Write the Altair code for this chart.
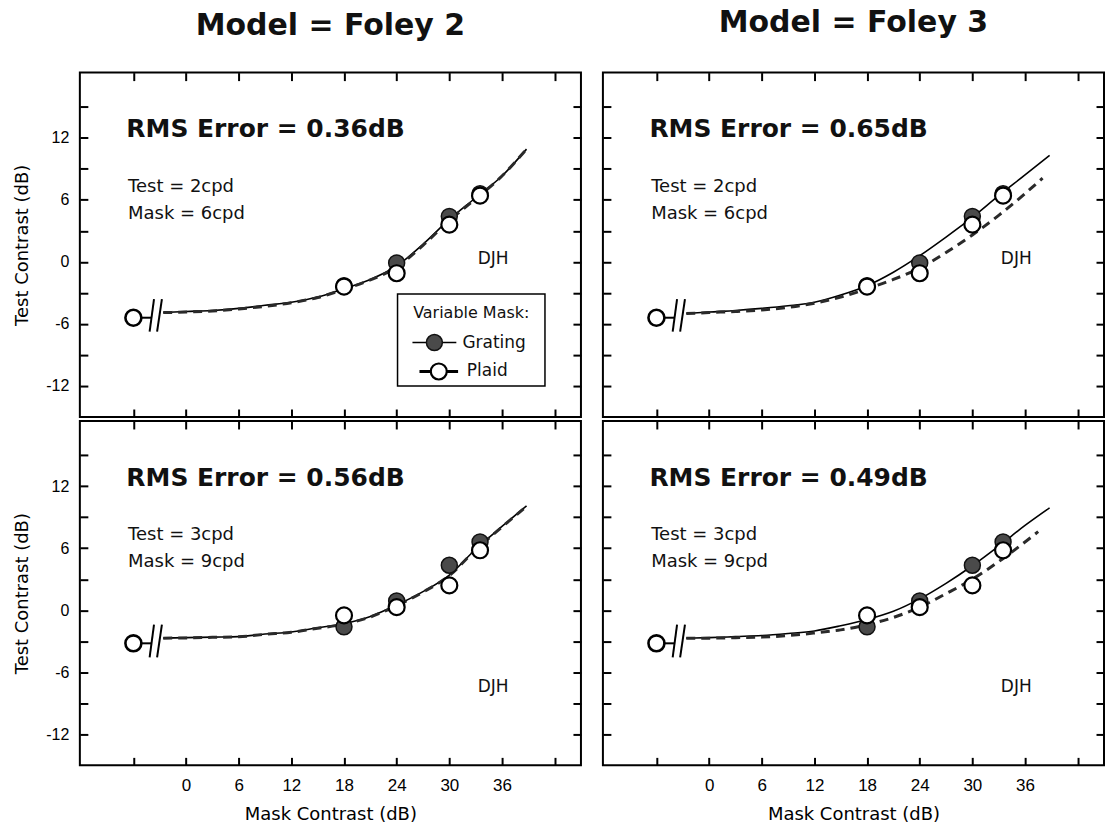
import altair as alt
import pandas as pd

# ---------------- data (dB) ----------------
MASK_DB = [18, 24, 30, 33.5]
NO_MASK_X = -6

TOP_GRATING = [-2.3, -0.1, 4.4, 6.6]
TOP_PLAID = [-2.4, -1.1, 3.6, 6.4]
TOP_NO_MASK = -5.4

BOT_GRATING = [-1.6, 0.9, 4.35, 6.6]
BOT_PLAID = [-0.5, 0.3, 2.4, 5.8]
BOT_NO_MASK = -3.2

FIT_X = [-2.6, 0, 3, 6, 9, 12, 15, 18, 21, 24, 27, 30, 33, 36, 38.8]

# Foley 2 model fits
F2_TOP_GRATING_FIT = [-4.9, -4.8, -4.7, -4.5, -4.2, -3.9, -3.4, -2.6, -1.7, -0.4, 1.7, 4.1, 6.2, 8.3, 10.9]
F2_TOP_PLAID_FIT = [-4.9, -4.85, -4.75, -4.55, -4.3, -3.95, -3.45, -2.65, -1.75, -0.5, 1.6, 4.0, 6.1, 8.3, 10.9]
F2_BOT_GRATING_FIT = [-2.7, -2.65, -2.6, -2.55, -2.3, -2.1, -1.7, -1.3, -0.6, 0.5, 1.8, 3.4, 5.9, 8.1, 10.1]
F2_BOT_PLAID_FIT = [-2.7, -2.68, -2.62, -2.57, -2.33, -2.13, -1.74, -1.35, -0.65, 0.45, 1.75, 3.35, 5.85, 8.05, 10.05]

# Foley 3 model fits
F3_TOP_GRATING_FIT = [-5.0, -4.85, -4.7, -4.5, -4.25, -3.9, -3.2, -2.3, -1.0, 0.6, 2.4, 4.3, 6.4, 8.4, 10.3]
F3_TOP_PLAID_X = [-2.6, 0, 3, 6, 9, 12, 15, 18, 21, 24, 27, 30, 33, 36, 38.0]
F3_TOP_PLAID_FIT = [-5.0, -4.9, -4.8, -4.65, -4.4, -4.0, -3.4, -2.6, -1.7, -0.6, 0.9, 2.6, 4.5, 6.6, 8.1]
F3_BOT_GRATING_FIT = [-2.7, -2.65, -2.55, -2.45, -2.25, -2.0, -1.5, -0.9, -0.1, 1.1, 2.6, 4.3, 6.2, 8.2, 9.9]
F3_BOT_PLAID_X = [-2.6, 0, 3, 6, 9, 12, 15, 18, 21, 24, 27, 30, 33, 36, 37.5]
F3_BOT_PLAID_FIT = [-2.7, -2.7, -2.65, -2.6, -2.45, -2.2, -1.9, -1.4, -0.7, 0.3, 1.6, 3.0, 4.7, 6.6, 7.6]

RMS = {"F2_top": "0.36", "F3_top": "0.65", "F2_bot": "0.56", "F3_bot": "0.49"}
TOP_FREQ = ["Test = 2cpd", "Mask = 6cpd"]
BOT_FREQ = ["Test = 3cpd", "Mask = 9cpd"]
X_TICKS = [-6, 0, 6, 12, 18, 24, 30, 36, 42]
Y_TICKS = [-12, -9, -6, -3, 0, 3, 6, 9, 12, 15]
LEGEND_TITLE = "Variable Mask:"
LEGEND_ITEMS = ["Grating", "Plaid"]

# ---------------- layout / style ----------------
W, H = 502, 345
xs = alt.Scale(domain=[-12.1, 45], nice=False, zero=False)
ys = alt.Scale(domain=[-15, 18.3], nice=False, zero=False)
SANS = "DejaVu Sans"
ARIAL = "Liberation Sans"


def x_axis(orient, labels):
    kw = dict(orient=orient, values=X_TICKS, offset=-8, tickSize=8, tickWidth=2,
              tickColor="black", domain=False, grid=False, labels=labels)
    if labels:
        kw.update(labelExpr="datum.value >= 0 && datum.value <= 36 ? '' + datum.value : ''",
                  labelFont=ARIAL, labelFontSize=17, labelPadding=12, labelColor="black",
                  title="Mask Contrast (dB)", titleFont=SANS, titleFontSize=18,
                  titleFontWeight="normal", titlePadding=12, titleColor="black")
    else:
        kw.update(title=None)
    return alt.Axis(**kw)


def y_axis(orient, labels):
    kw = dict(orient=orient, values=Y_TICKS, offset=-8, tickSize=8, tickWidth=2,
              tickColor="black", domain=False, grid=False, labels=labels)
    if labels:
        kw.update(labelExpr="datum.value % 6 == 0 && abs(datum.value) <= 12 ? '' + datum.value : ''",
                  labelFont=ARIAL, labelFontSize=16, labelPadding=11, labelColor="black",
                  title="Test Contrast (dB)", titleFont=SANS, titleFontSize=18,
                  titleFontWeight="normal", titlePadding=14, titleColor="black")
    else:
        kw.update(title=None)
    return alt.Axis(**kw)


def X(f="m"):
    return alt.X(f"{f}:Q", scale=xs, axis=None)


def Y(f="t"):
    return alt.Y(f"{f}:Q", scale=ys, axis=None)


def panel(g_x, g_y, p_x, p_y, grating, plaid, nomask, rms, freq, djh_y,
          left, bottom, legend=False, title=None, title_dy=0):
    layers = []
    solid = alt.Chart(pd.DataFrame({"m": g_x, "t": g_y})).mark_line(
        color="black", strokeWidth=1.6, interpolate="monotone").encode(
        x=alt.X("m:Q", scale=xs, axis=x_axis("bottom", bottom)),
        y=alt.Y("t:Q", scale=ys, axis=y_axis("left", left)))
    dashed = alt.Chart(pd.DataFrame({"m": p_x, "t": p_y})).mark_line(
        color="#2a2a2a", strokeWidth=3, strokeDash=[9, 6], interpolate="monotone").encode(
        x=alt.X("m:Q", scale=xs, axis=x_axis("top", False)),
        y=alt.Y("t:Q", scale=ys, axis=y_axis("right", False)))
    layers += [solid, dashed]

    # connector from the no-mask point and the axis-break marks
    conn = alt.Chart(pd.DataFrame({"m": [NO_MASK_X], "m2": [-3.9], "t": [nomask]})).mark_rule(
        color="black", strokeWidth=2).encode(x=X(), x2="m2:Q", y=Y())
    brk = alt.Chart(pd.DataFrame({"m": [-4.15, -3.3], "m2": [-3.65, -2.75],
                                  "t": [nomask - 1.35] * 2, "t2": [nomask + 1.8] * 2})).mark_rule(
        color="black", strokeWidth=2).encode(x=X(), x2="m2:Q", y=Y(), y2="t2:Q")
    layers += [conn, brk]

    gp = alt.Chart(pd.DataFrame({"m": MASK_DB, "t": grating})).mark_point(
        shape="circle", filled=True, fill="#4a4a4a", stroke="#111111", strokeWidth=1.5,
        size=256, opacity=1).encode(x=X(), y=Y())
    pp = alt.Chart(pd.DataFrame({"m": MASK_DB, "t": plaid})).mark_point(
        shape="circle", filled=True, fill="white", stroke="black", strokeWidth=2.2,
        size=256, opacity=1).encode(x=X(), y=Y())
    nm = alt.Chart(pd.DataFrame({"m": [NO_MASK_X], "t": [nomask]})).mark_point(
        shape="circle", filled=True, fill="white", stroke="black", strokeWidth=2.6,
        size=256, opacity=1).encode(x=X(), y=Y())
    layers += [gp, pp, nm]

    rms_t = alt.Chart(pd.DataFrame({"m": [-6.8], "t": [12.8], "s": [f"RMS Error = {rms}dB"]})).mark_text(
        align="left", baseline="middle", font=SANS, fontSize=25, fontWeight="bold", color="#111").encode(
        x=X(), y=Y(), text="s:N")
    fq = alt.Chart(pd.DataFrame({"m": [-6.6, -6.6], "t": [7.25, 4.65], "s": freq})).mark_text(
        align="left", baseline="middle", font=SANS, fontSize=18, color="#111").encode(
        x=X(), y=Y(), text="s:N")
    dj = alt.Chart(pd.DataFrame({"m": [35.0], "t": [djh_y], "s": ["DJH"]})).mark_text(
        align="center", baseline="middle", font=SANS, fontSize=17, color="#111").encode(
        x=X(), y=Y(), text="s:N")
    layers += [rms_t, fq, dj]

    if legend:
        box = alt.Chart(pd.DataFrame({"m": [24.1], "m2": [40.9], "t": [-3.1], "t2": [-12.0]})).mark_rect(
            fill="white", stroke="black", strokeWidth=1.5).encode(x=X(), x2="m2:Q", y=Y(), y2="t2:Q")
        lt = alt.Chart(pd.DataFrame({"m": [32.5], "t": [-4.9], "s": [LEGEND_TITLE]})).mark_text(
            align="center", baseline="middle", font=SANS, fontSize=16, color="#111").encode(
            x=X(), y=Y(), text="s:N")
        li = alt.Chart(pd.DataFrame({"m": [31.5, 32.0], "t": [-7.8, -10.6], "s": LEGEND_ITEMS})).mark_text(
            align="left", baseline="middle", font=SANS, fontSize=17, color="#111").encode(
            x=X(), y=Y(), text="s:N")
        lg_line = alt.Chart(pd.DataFrame({"m": [25.8], "m2": [30.8], "t": [-7.8]})).mark_rule(
            color="black", strokeWidth=1.5).encode(x=X(), x2="m2:Q", y=Y())
        lp_line = alt.Chart(pd.DataFrame({"m": [26.6], "m2": [31.0], "t": [-10.6]})).mark_rule(
            color="black", strokeWidth=3).encode(x=X(), x2="m2:Q", y=Y())
        lg_pt = alt.Chart(pd.DataFrame({"m": [28.3], "t": [-7.8]})).mark_point(
            shape="circle", filled=True, fill="#4a4a4a", stroke="#111111", strokeWidth=1.5,
            size=256, opacity=1).encode(x=X(), y=Y())
        lp_pt = alt.Chart(pd.DataFrame({"m": [28.8], "t": [-10.6]})).mark_point(
            shape="circle", filled=True, fill="white", stroke="black", strokeWidth=2.2,
            size=256, opacity=1).encode(x=X(), y=Y())
        layers += [box, lt, lg_line, lp_line, lg_pt, lp_pt, li]

    ch = alt.layer(*layers).resolve_axis(x="independent", y="independent")
    props = dict(width=W, height=H)
    if title:
        props["title"] = alt.TitleParams(text=title, font=SANS, fontSize=30, fontWeight="bold",
                                         color="#111", anchor="middle", baseline="alphabetic",
                                         offset=7, dy=title_dy)
    return ch.properties(**props)


tl = panel(FIT_X, F2_TOP_GRATING_FIT, FIT_X, F2_TOP_PLAID_FIT, TOP_GRATING, TOP_PLAID,
           TOP_NO_MASK, RMS["F2_top"], TOP_FREQ, 0.3, left=True, bottom=False,
           legend=True, title="Model = Foley 2")
tr = panel(FIT_X, F3_TOP_GRATING_FIT, F3_TOP_PLAID_X, F3_TOP_PLAID_FIT, TOP_GRATING, TOP_PLAID,
           TOP_NO_MASK, RMS["F3_top"], TOP_FREQ, 0.3, left=False, bottom=False,
           title="Model = Foley 3", title_dy=-3)
bl = panel(FIT_X, F2_BOT_GRATING_FIT, FIT_X, F2_BOT_PLAID_FIT, BOT_GRATING, BOT_PLAID,
           BOT_NO_MASK, RMS["F2_bot"], BOT_FREQ, -7.45, left=True, bottom=True)
br = panel(FIT_X, F3_BOT_GRATING_FIT, F3_BOT_PLAID_X, F3_BOT_PLAID_FIT, BOT_GRATING, BOT_PLAID,
           BOT_NO_MASK, RMS["F3_bot"], BOT_FREQ, -7.45, left=False, bottom=True)

chart = alt.concat(tl, tr, bl, br, columns=2, spacing={"row": 0, "column": 18}, align="each").properties(
    padding={"left": 12, "right": 0, "top": 6, "bottom": 0}, background="white"
).configure_view(stroke="black", strokeWidth=2)

chart.save("out.html", embed_options={"renderer": "svg", "actions": False})
